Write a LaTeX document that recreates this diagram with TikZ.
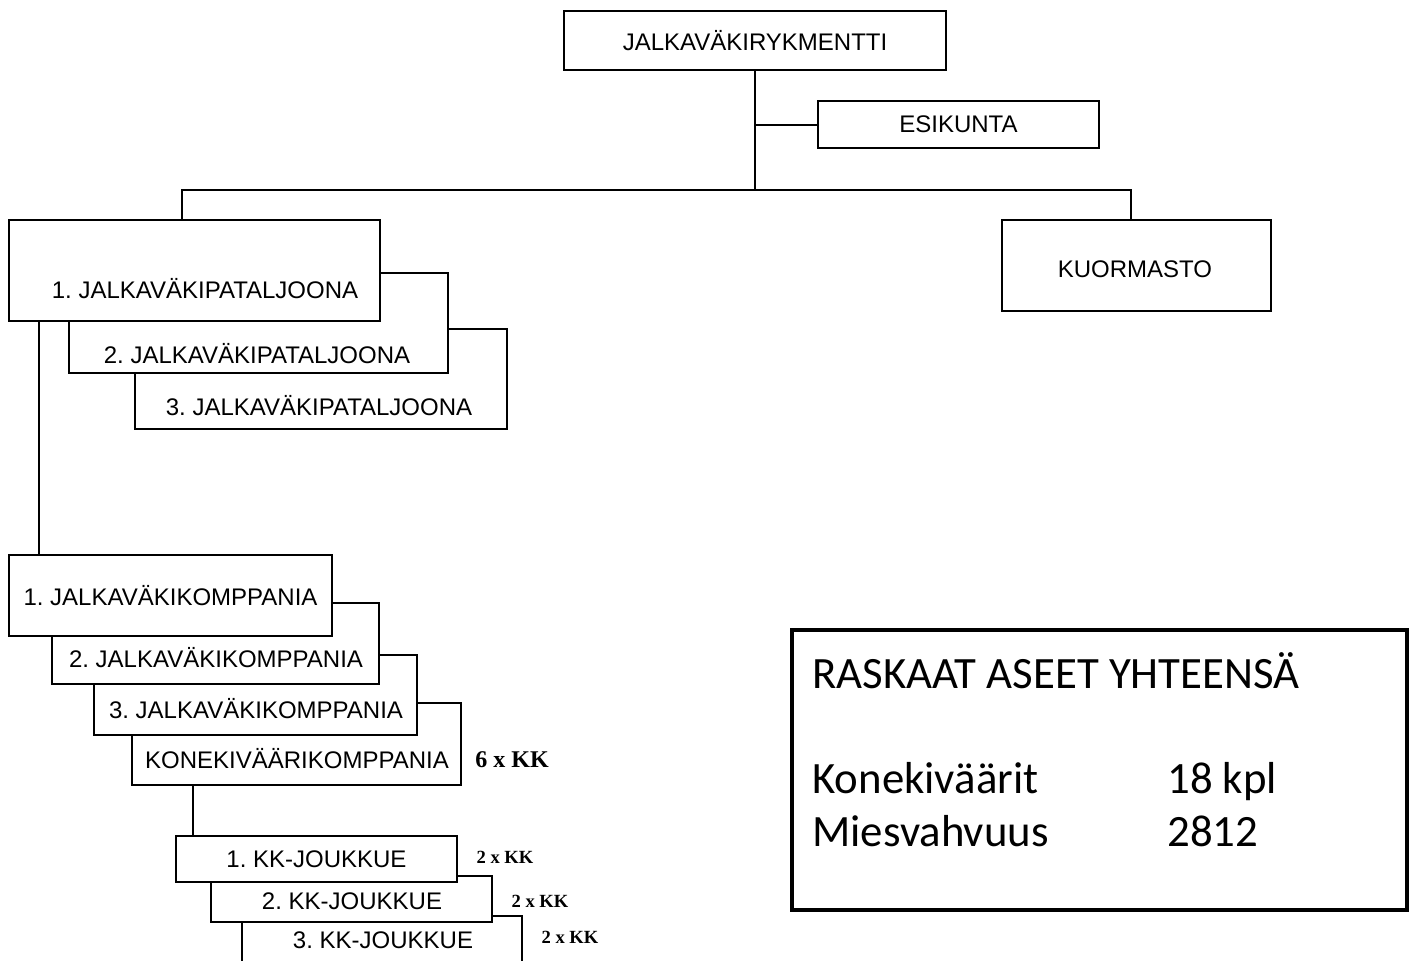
\documentclass[tikz,border=0pt]{standalone}
\usepackage{fontspec}
\setmainfont{Liberation Sans}
\newfontfamily\notefont{Liberation Serif}
\newfontfamily\sumfont{Carlito}
\begin{document}
\frenchspacing
\begin{tikzpicture}[x=0.5pt,y=-0.5pt,
  unit/.style={draw, fill=white, line width=1pt, inner sep=0pt,
    font=\fontsize{12}{14}\selectfont},
  every label/.style={font=\fontsize{12}{14}\selectfont, inner sep=0pt},
  link/.style={line width=1pt},
  bignote/.style={font=\notefont\bfseries\fontsize{12}{14}\selectfont, inner sep=0pt},
  smallnote/.style={font=\notefont\bfseries\fontsize{9.3}{11}\selectfont, inner sep=0pt},
  sumtext/.style={font=\sumfont\fontsize{22.4}{27}\selectfont, inner sep=0pt, anchor=base west}]

\clip (0,0) rectangle (1416,960);
\fill[white] (0,0) rectangle (1416,960);

% regiment and headquarters
\node[unit, minimum width=191pt, minimum height=29.5pt] (rgt) at (755,40.5) {JALKAVÄKIRYKMENTTI};
\node[unit, minimum width=140.5pt, minimum height=23.5pt] (hq) at (958.5,124.5) {ESIKUNTA};
\node[unit, minimum width=134.5pt, minimum height=45.5pt,
  label={[shift={(-1.5,3.5)}]center:KUORMASTO}] (trn) at (1136.5,265.5) {};

% battalions, stacked back to front
\node[unit, minimum width=186pt, minimum height=50pt,
  label={[shift={(-2,27)}]center:3. JALKAVÄKIPATALJOONA}] (bn3) at (321,379) {};
\node[unit, minimum width=189.5pt, minimum height=50pt,
  label={[shift={(-1.5,31)}]center:2. JALKAVÄKIPATALJOONA}] (bn2) at (258.5,323) {};
\node[unit, minimum width=185.5pt, minimum height=50.5pt,
  label={[shift={(10.5,18.5)}]center:1. JALKAVÄKIPATALJOONA}] (bn1) at (194.5,270.5) {};

% companies, stacked back to front
\node[unit, minimum width=164.5pt, minimum height=41pt,
  label={[shift={(0.5,15)}]center:KONEKIVÄÄRIKOMPPANIA}] (mgc) at (296.5,744) {};
\node[unit, minimum width=161.5pt, minimum height=40pt,
  label={[shift={(0.5,14)}]center:3. JALKAVÄKIKOMPPANIA}] (co3) at (255.5,695) {};
\node[unit, minimum width=163.5pt, minimum height=40.5pt,
  label={[shift={(0.5,14.5)}]center:2. JALKAVÄKIKOMPPANIA}] (co2) at (215.5,643.5) {};
\node[unit, minimum width=161.5pt, minimum height=40.5pt] (co1) at (170.5,595.5) {1. JALKAVÄKIKOMPPANIA};

% machine-gun platoons, stacked back to front
\node[unit, minimum width=140pt, minimum height=30pt,
  label={[shift={(1,-6)}]center:3. KK-JOUKKUE}] (pl3) at (382,946) {};
\node[unit, minimum width=140.5pt, minimum height=23pt,
  label={[shift={(0.5,2)}]center:2. KK-JOUKKUE}] (pl2) at (351.5,899) {};
\node[unit, minimum width=140.5pt, minimum height=23pt] (pl1) at (316.5,859) {1. KK-JOUKKUE};

% weapon counts
\node[bignote] (n0) at (512,760) {6 x KK};
\node[smallnote] (n1) at (505,857) {2 x KK};
\node[smallnote] (n2) at (540,901) {2 x KK};
\node[smallnote] (n3) at (570,937) {2 x KK};

% connectors
\coordinate (bus) at (755,190);
\draw[link] (rgt.south) -- (bus);
\draw[link] (rgt.south |- hq.west) -- (hq.west);
\draw[link] ([xshift=-6.25pt]bn1.north) |- (bus) -| ([xshift=-2.75pt]trn.north);
\draw[link] ([xshift=15.5pt]bn1.south west) -- ([xshift=15.5pt]co1.north west);
\draw[link] ([xshift=31pt]mgc.south west) -- ([xshift=31pt]mgc.south west |- pl1.north);

% totals
\node[draw, line width=1.8pt, minimum width=307.5pt, minimum height=140pt, inner sep=0pt] (sum) at (1099.5,770) {};
\node[sumtext] (sh) at (812,688) {RASKAAT ASEET YHTEENSÄ};
\node[sumtext] (s1) at (812,793) {Konekiväärit};
\node[sumtext] (v1) at (1167,793) {18 kpl};
\node[sumtext] (s2) at (812,846) {Miesvahvuus};
\node[sumtext] (v2) at (1167,846) {2812};
\end{tikzpicture}
\end{document}
